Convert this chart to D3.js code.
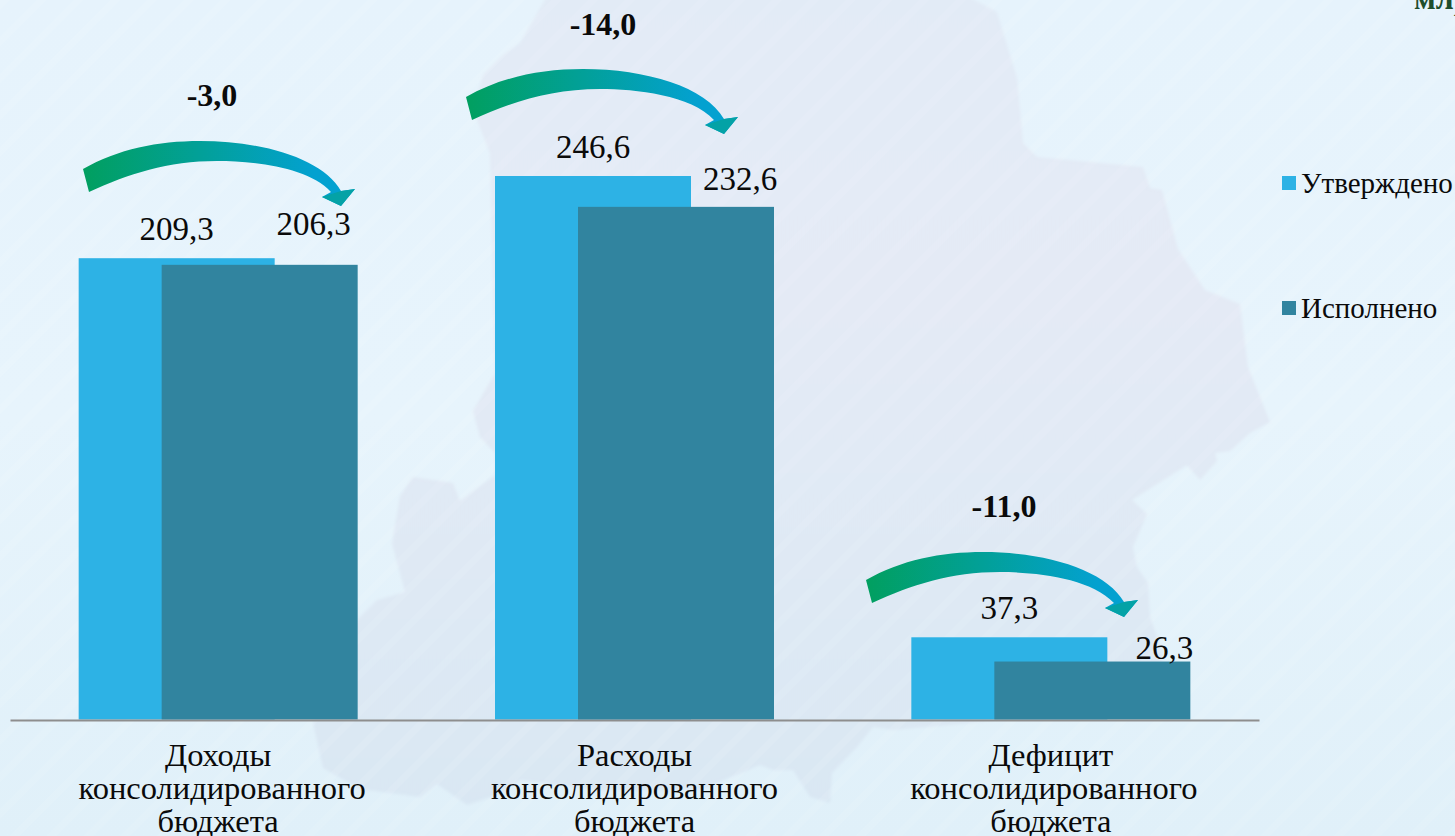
<!DOCTYPE html>
<html><head><meta charset="utf-8">
<style>html,body{margin:0;padding:0;overflow:hidden;background:#e4f2fb}svg{display:block}text{font-family:"Liberation Serif",serif;fill:#0a0a0a}</style>
<script src="https://cdn.jsdelivr.net/npm/d3@7"></script>
</head><body><svg id="c" width="1455" height="836"></svg>
<script>
const categories = ["Доходы", "Расходы", "Дефицит"];
const categorySubLines = ["консолидированного", "бюджета"];
const seriesNames = ["Утверждено", "Исполнено"];
const approved = [209.3, 246.6, 37.3];
const executed = [206.3, 232.6, 26.3];
const deltas = ["-3,0", "-14,0", "-11,0"];
const seriesColors = ["#2db2e5", "#31849f"];

// layout (not data)
const W = 1455, H = 836, base = 719.5;
const svg = d3.select("#c");
const defs = svg.append("defs");

const bg = defs.append("linearGradient").attr("id","bg").attr("x1",0).attr("y1",0).attr("x2",0).attr("y2",1);
[[0,"#e6f3fc"],[.5,"#e7f4fc"],[1,"#e0f0f9"]].forEach(s=>bg.append("stop").attr("offset",s[0]).attr("stop-color",s[1]));
const mg = defs.append("linearGradient").attr("id","mapg").attr("x1",0).attr("y1",0).attr("x2",0).attr("y2",1);
[[0,"#e2ebf6"],[.35,"#e4eaf5"],[.7,"#dfe9f4"],[1,"#d9e7f3"]].forEach(s=>mg.append("stop").attr("offset",s[0]).attr("stop-color",s[1]));
defs.append("filter").attr("id","soft").append("feGaussianBlur").attr("stdDeviation",1.5);
const pat = defs.append("pattern").attr("id","stripes").attr("width",26).attr("height",26)
  .attr("patternUnits","userSpaceOnUse").attr("patternTransform","rotate(45)");
pat.append("rect").attr("width",7).attr("height",26).attr("fill","#ffffff").attr("opacity",.07);

const arrowG = defs.append("linearGradient").attr("id","arrowg");
[[0,"#019f5f"],[.85,"#03a1d0"]].forEach(s=>arrowG.append("stop").attr("offset",s[0]).attr("stop-color",s[1]));

svg.append("rect").attr("width",W).attr("height",H).attr("fill","url(#bg)");

const mapOutline = [[547,-4],[520,43],[503,55],[483,75],[473,110],[490,153],[495,373],[473,411],[480,437],[495,453],[495,475],[460,501],[453,483],[413,477],[400,496],[392,544],[405,592],[377,600],[358,619],[330,680],[313,723],[323,768],[360,789],[420,797],[437,784],[467,805],[497,795],[520,780],[600,790],[700,790],[760,765],[773,770],[793,770],[810,797],[830,803],[832,773],[857,747],[873,727],[893,730],[970,723],[1000,719],[1100,700],[1163,660],[1157,637],[1150,617],[1148,583],[1137,567],[1133,547],[1147,514],[1132,500],[1187,465],[1200,480],[1217,461],[1215,453],[1230,451],[1250,433],[1270,422],[1248,367],[1240,304],[1205,290],[1178,249],[1162,190],[1150,188],[1143,167],[1037,157],[1023,143],[1017,78],[997,12],[967,-4]];
svg.append("path").attr("d",d3.line()(mapOutline)+"Z").attr("fill","url(#mapg)").attr("filter","url(#soft)");
svg.append("rect").attr("width",W).attr("height",H).attr("fill","url(#stripes)");

const x = d3.scaleBand().domain(categories).range([10,1259]);
const xs = d3.scalePoint().domain(seriesNames).range([-41.5,41.5]);
const y = d3.scaleLinear().domain([0,246.6]).range([base,176]);
const barW = 196;

const values = [approved, executed];
seriesNames.forEach((s,si)=>{
  svg.append("g").selectAll("rect").data(categories).join("rect")
    .attr("x",c=>x(c)+x.bandwidth()/2+xs(s)-barW/2)
    .attr("y",(c,i)=>y(values[si][i]))
    .attr("width",barW)
    .attr("height",(c,i)=>base-y(values[si][i]))
    .attr("fill",seriesColors[si]);
});

// axis
const axis = svg.append("g").attr("transform",`translate(0,${base+.5})`).call(d3.axisBottom(x).tickSize(0).tickFormat(""));
axis.select(".domain").attr("stroke","#8e8e8e").attr("stroke-width",2);

// category labels
const catFont = 32.5;
const midLineDx = [4,0,3];
categories.forEach((c,i)=>{
  const cx = x(c)+x.bandwidth()/2;
  [c,...categorySubLines].forEach((t,k)=>svg.append("text").attr("x",cx+(k===1?midLineDx[i]:0)).attr("y",765.5+k*33)
    .attr("text-anchor","middle").attr("font-size",catFont).text(t));
});

// value labels: offsets from the bar centre / top, as placed in the reference
const valueDx = [[0,0,0],[54,64,72]];
const valueDy = [[18,18,18],[30,16.5,3]];
seriesNames.forEach((s,si)=>{
  categories.forEach((c,i)=>{
    svg.append("text")
      .attr("x",x(c)+x.bandwidth()/2+xs(s)+valueDx[si][i])
      .attr("y",y(values[si][i])-valueDy[si][i])
      .attr("text-anchor","middle").attr("font-size",33).text(String(values[si][i]).replace(".",","));
  });
});

// arrows and differences
const arrowPath = "M0,0C35,-20 75,-28 117,-28C180,-28 240,-10 258,22L272,20L258,37L239,28L248,23C225,-2 170,-8 134,-8C85,-8 45,5 6,23Z";
const arrowOrigin = [[83,169],[466,97],[866,580]];
const deltaAt = [[212,106],[603,35],[1004,517]];
deltas.forEach((d,i)=>{
  svg.append("path").attr("d",arrowPath).attr("transform",`translate(${arrowOrigin[i]})`).attr("fill","url(#arrowg)");
  svg.append("path").attr("d","M258,22L272,20L258,37L239,28Z").attr("transform",`translate(${arrowOrigin[i]})`).attr("fill","#04a2a6");
  svg.append("text").attr("x",deltaAt[i][0]).attr("y",deltaAt[i][1]).attr("text-anchor","middle")
    .attr("font-size",32).attr("font-weight",700).text(d);
});

// legend
const legendY = [176,301];
seriesNames.forEach((s,i)=>{
  svg.append("rect").attr("x",1282).attr("y",legendY[i]).attr("width",14).attr("height",14).attr("fill",seriesColors[i]);
  svg.append("text").attr("x",1301).attr("y",legendY[i]+17).attr("font-size",29).text(s);
});

// clipped unit caption
svg.append("text").attr("x",1414).attr("y",9).attr("font-size",32).attr("font-weight",700).style("fill","#1d4d2c").text("млрд. рублей");
</script></body></html>
